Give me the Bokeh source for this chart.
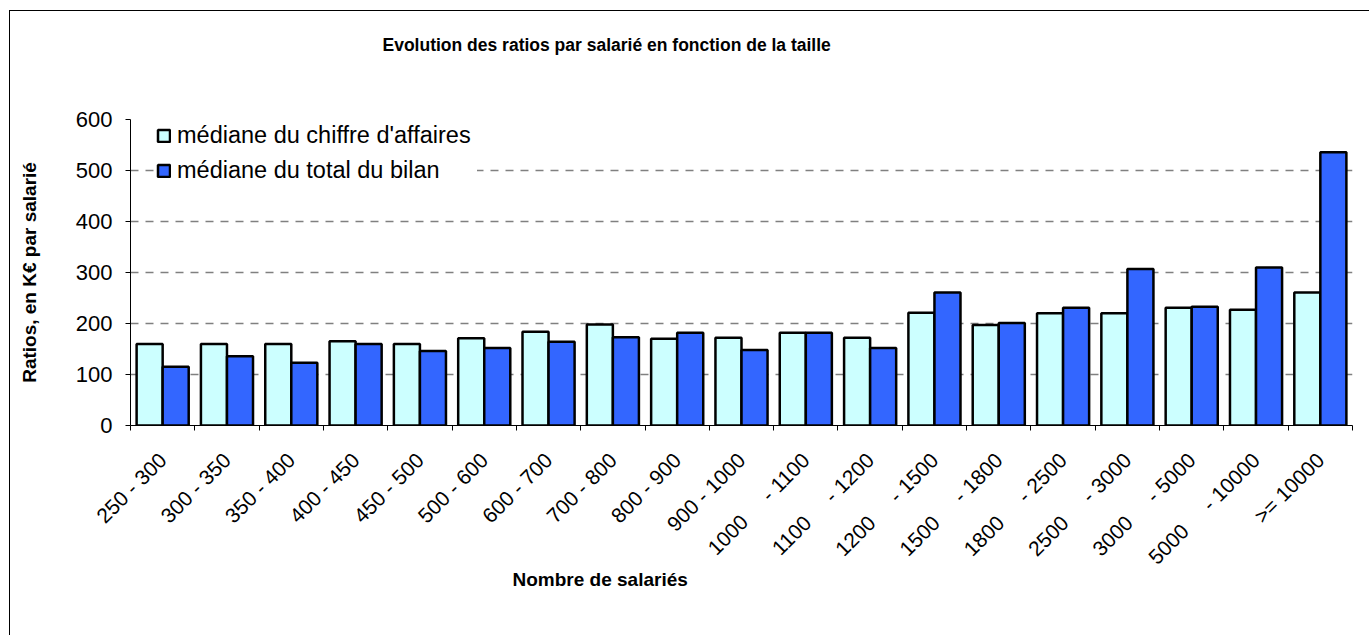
import math
from bokeh.plotting import figure
from bokeh.models import ColumnDataSource, Range1d, FixedTicker, Legend, LegendItem, Title
from bokeh.transform import dodge
from bokeh.embed import file_html
from bokeh.resources import INLINE

# ---- data ----
categories = ["250 - 300", "300 - 350", "350 - 400", "400 - 450", "450 - 500",
              "500 - 600", "600 - 700", "700 - 800", "800 - 900", "900 - 1000",
              "1000 - 1100", "1100 - 1200", "1200 - 1500", "1500 - 1800",
              "1800 - 2500", "2500 - 3000", "3000 - 5000", "5000 - 10000", ">= 10000"]
mediane_ca = [160, 160, 160, 165, 160, 171, 184, 198, 170, 172,
              182, 172, 221, 197, 220, 220, 231, 227, 261]
mediane_bilan = [115, 136, 123, 160, 146, 152, 164, 173, 182, 148,
                 182, 152, 261, 201, 231, 307, 233, 310, 536]
y_ticks = [0, 100, 200, 300, 400, 500, 600]
series_names = ["médiane du chiffre d'affaires", "médiane du total du bilan"]
title_text = "Evolution des ratios par salarié en fonction de la taille"
x_title = "Nombre de salariés"
y_title = "Ratios, en K€ par salarié"

# tick labels as displayed (wide gap after 4-digit lower bounds)
GAP = "\u00a0" * 4
tick_labels = []
for c in categories:
    lo = c.split(" - ")[0]
    if " - " in c and len(lo) >= 4:
        tick_labels.append(c.replace(" - ", " " + GAP + "- "))
    else:
        tick_labels.append(c)

n = len(categories)
centers = [i + 0.5 for i in range(n)]
src = ColumnDataSource(dict(x=centers, cat=categories, ca=mediane_ca, bilan=mediane_bilan))

FONT = "Liberation Sans"

p = figure(width=1360, height=625, output_backend="svg", toolbar_location=None,
           x_range=Range1d(0, n), y_range=Range1d(0, 600), title=None)
p.styles = {"margin-left": "9px", "margin-top": "10px",
            "border-left": "1px solid black", "border-top": "1px solid black"}
p.min_border_left = 120
p.min_border_right = 18
p.min_border_top = 108
p.min_border_bottom = 211
p.outline_line_color = None
p.background_fill_color = "white"
p.border_fill_color = "white"

bw = 0.405
r1 = p.vbar(x=dodge("x", -bw / 2, range=p.x_range), top="ca", width=bw, source=src,
            fill_color="#CCFFFF", line_color="black", line_width=2.5)
r2 = p.vbar(x=dodge("x", bw / 2, range=p.x_range), top="bilan", width=bw, source=src,
            fill_color="#3366FF", line_color="black", line_width=2.5)

# x axis: labels at centres, ticks at category boundaries
xa = p.xaxis[0]
xa.ticker = FixedTicker(ticks=centers, minor_ticks=list(range(n + 1)))
xa.major_label_overrides = {c: lab for c, lab in zip(centers, tick_labels)}
xa.major_tick_out = 0
xa.major_tick_in = 0
xa.minor_tick_out = 5
xa.minor_tick_in = 0
xa.minor_tick_line_color = "black"
xa.axis_line_color = "black"
xa.major_label_orientation = math.pi / 4
xa.major_label_text_font = FONT
xa.major_label_text_font_size = "21px"
xa.major_label_text_color = "black"
xa.major_label_standoff = 26

ya = p.yaxis[0]
ya.ticker = FixedTicker(ticks=y_ticks)
ya.major_tick_out = 5
ya.major_tick_in = 0
ya.minor_tick_out = 0
ya.minor_tick_in = 0
ya.axis_line_color = "black"
ya.major_tick_line_color = "black"
ya.major_label_text_font = FONT
ya.major_label_text_font_size = "22px"
ya.major_label_text_color = "black"
ya.major_label_standoff = 13
ya.axis_label = y_title
ya.axis_label_text_font = FONT
ya.axis_label_text_font_style = "bold"
ya.axis_label_text_font_size = "19px"
ya.axis_label_text_color = "black"
ya.axis_label_standoff = 33

p.xgrid.visible = False
p.ygrid.grid_line_color = "#808080"
p.ygrid.grid_line_dash = "8 7"
p.ygrid.grid_line_width = 1.5

legend = Legend(items=[LegendItem(label=series_names[0], renderers=[r1]),
                       LegendItem(label=series_names[1], renderers=[r2])],
                location=(26, 241))
legend.label_text_font = FONT
legend.label_text_font_size = "23.5px"
legend.label_text_color = "black"
legend.border_line_color = None
legend.background_fill_color = "white"
legend.background_fill_alpha = 1.0
legend.glyph_width = 15
legend.glyph_height = 15
legend.label_standoff = 6
legend.label_width = 300
legend.padding = 6
legend.spacing = 8
legend.label_height = 20
legend.margin = 0
p.add_layout(legend, "center")

# title (outermost) + invisible spacer between title and frame
spacer = Title(text=" ", align="left", vertical_align="top", standoff=36,
               text_font=FONT, text_font_style="bold", text_font_size="17.5px")
main_title = Title(text=title_text, align="left", offset=252, vertical_align="top",
                   standoff=10, text_font=FONT, text_font_style="bold",
                   text_font_size="17.5px", text_color="black")
p.add_layout(spacer, "above")
p.add_layout(main_title, "above")

p.add_layout(Title(text=x_title, align="left", offset=382, vertical_align="top",
                   standoff=-21, text_font=FONT, text_font_style="bold",
                   text_font_size="19px", text_color="black"), "below")

open("out.html", "w").write(file_html(p, INLINE))
